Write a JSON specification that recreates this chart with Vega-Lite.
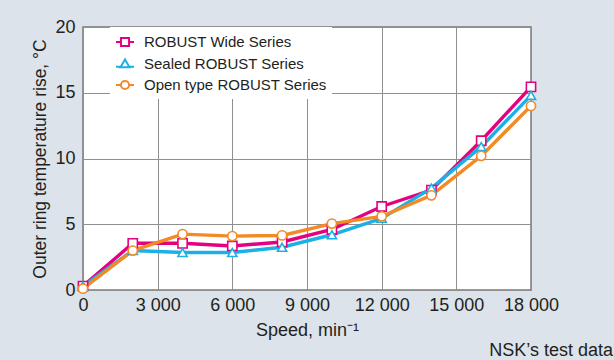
{
  "$schema": "https://vega.github.io/schema/vega-lite/v6.json",
  "width": 448,
  "height": 263,
  "autosize": {"type": "none"},
  "padding": {"left": 83, "top": 27, "right": 83, "bottom": 70},
  "background": "#dde3ea",
  "title": {"text": "NSK’s test data", "orient": "bottom", "anchor": "end", "frame": "group", "align": "right", "dx": 82, "offset": 3, "fontSize": 18, "fontWeight": "normal", "font": "Liberation Sans", "color": "#231f20"},
  "config": {
    "view": {"fill": "white", "stroke": "#7a7a7a", "strokeWidth": 1.5},
    "axis": {"labelFont": "Liberation Sans", "titleFont": "Liberation Sans", "labelColor": "#231f20", "titleColor": "#231f20", "labelFontSize": 18, "titleFontSize": 17.5, "titleFontWeight": "normal", "domain": false, "ticks": false, "grid": true, "gridColor": "#8f8f8f", "gridWidth": 1}
  },
  "data": {"values": [
    {"speed": 0, "rise": 0.3, "series": "ROBUST Wide Series"},
    {"speed": 2000, "rise": 3.55, "series": "ROBUST Wide Series"},
    {"speed": 4000, "rise": 3.55, "series": "ROBUST Wide Series"},
    {"speed": 6000, "rise": 3.35, "series": "ROBUST Wide Series"},
    {"speed": 8000, "rise": 3.65, "series": "ROBUST Wide Series"},
    {"speed": 10000, "rise": 4.6, "series": "ROBUST Wide Series"},
    {"speed": 12000, "rise": 6.35, "series": "ROBUST Wide Series"},
    {"speed": 14000, "rise": 7.6, "series": "ROBUST Wide Series"},
    {"speed": 16000, "rise": 11.35, "series": "ROBUST Wide Series"},
    {"speed": 18000, "rise": 15.45, "series": "ROBUST Wide Series"},
    {"speed": 0, "rise": 0.3, "series": "Sealed ROBUST Series"},
    {"speed": 2000, "rise": 3.0, "series": "Sealed ROBUST Series"},
    {"speed": 4000, "rise": 2.85, "series": "Sealed ROBUST Series"},
    {"speed": 6000, "rise": 2.85, "series": "Sealed ROBUST Series"},
    {"speed": 8000, "rise": 3.25, "series": "Sealed ROBUST Series"},
    {"speed": 10000, "rise": 4.2, "series": "Sealed ROBUST Series"},
    {"speed": 12000, "rise": 5.45, "series": "Sealed ROBUST Series"},
    {"speed": 14000, "rise": 7.75, "series": "Sealed ROBUST Series"},
    {"speed": 16000, "rise": 10.9, "series": "Sealed ROBUST Series"},
    {"speed": 18000, "rise": 14.8, "series": "Sealed ROBUST Series"},
    {"speed": 0, "rise": 0.1, "series": "Open type ROBUST Series"},
    {"speed": 2000, "rise": 3.0, "series": "Open type ROBUST Series"},
    {"speed": 4000, "rise": 4.25, "series": "Open type ROBUST Series"},
    {"speed": 6000, "rise": 4.1, "series": "Open type ROBUST Series"},
    {"speed": 8000, "rise": 4.15, "series": "Open type ROBUST Series"},
    {"speed": 10000, "rise": 5.05, "series": "Open type ROBUST Series"},
    {"speed": 12000, "rise": 5.6, "series": "Open type ROBUST Series"},
    {"speed": 14000, "rise": 7.2, "series": "Open type ROBUST Series"},
    {"speed": 16000, "rise": 10.2, "series": "Open type ROBUST Series"},
    {"speed": 18000, "rise": 14.0, "series": "Open type ROBUST Series"}
  ]},
  "encoding": {
    "x": {"field": "speed", "type": "quantitative", "scale": {"domain": [0, 18000], "nice": false},
      "axis": {"values": [0, 3000, 6000, 9000, 12000, 15000, 18000], "labelExpr": "replace(format(datum.value, ','), ',', ' ')", "labelPadding": 6, "title": "Speed, min⁻¹", "titleFontSize": 18, "titlePadding": 7, "labelFlush": false}},
    "y": {"field": "rise", "type": "quantitative", "scale": {"domain": [0, 20], "nice": false},
      "axis": {"values": [0, 5, 10, 15, 20], "labelPadding": 8, "title": "Outer ring temperature rise, °C", "titlePadding": 5}}
  },
  "layer": [
    {
      "mark": {"type": "line", "strokeWidth": 3.4},
      "encoding": {
        "color": {"field": "series", "type": "nominal", "sort": null,
          "scale": {"domain": ["ROBUST Wide Series", "Sealed ROBUST Series", "Open type ROBUST Series"], "range": ["#e4007f", "#1cb0e6", "#f28a26"]},
          "legend": {"orient": "none", "legendX": 27, "legendY": 0, "title": null, "fillColor": "white", "padding": 5, "labelLimit": 400,
            "symbolSize": 324, "symbolStrokeWidth": 2, "labelFontSize": 15, "labelFont": "Liberation Sans", "labelColor": "#231f20", "rowPadding": 3, "labelOffset": 9,
            "encode": {"symbols": {"update": {
              "fill": {"value": "white"},
              "shape": {"signal": "datum.value === 'ROBUST Wide Series' ? 'M-1,0H-0.45M0.45,0H1M-0.45,-0.45H0.45V0.45H-0.45Z' : datum.value === 'Sealed ROBUST Series' ? 'M-1,0.3H-0.5M0.5,0.3H1M0,-0.5L0.5,0.35H-0.5Z' : 'M-1,0H-0.45M0.45,0H1M0.45,0A0.45,0.45 0 1 1 -0.45,0A0.45,0.45 0 1 1 0.45,0Z'"}
            }}}
          }
        }
      }
    },
    {
      "transform": [{"filter": "datum.series === 'ROBUST Wide Series'"}],
      "mark": {"type": "point", "shape": "square", "filled": false, "fill": "white", "fillOpacity": 1, "stroke": "#e4007f", "strokeWidth": 1.6, "size": 85, "opacity": 1}
    },
    {
      "transform": [{"filter": "datum.series === 'Sealed ROBUST Series'"}],
      "mark": {"type": "point", "shape": "triangle-up", "filled": false, "fill": "white", "fillOpacity": 1, "stroke": "#1cb0e6", "strokeWidth": 1.6, "size": 85, "opacity": 1}
    },
    {
      "transform": [{"filter": "datum.series === 'Open type ROBUST Series'"}],
      "mark": {"type": "point", "shape": "circle", "filled": false, "fill": "white", "fillOpacity": 1, "stroke": "#f28a26", "strokeWidth": 1.6, "size": 85, "opacity": 1}
    }
  ]
}
